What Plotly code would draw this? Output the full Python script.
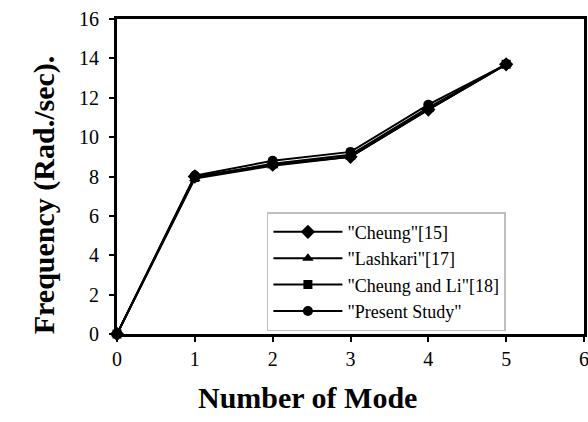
import plotly.graph_objects as go

modes = [0, 1, 2, 3, 4, 5]
cheung = [0, 8.0, 8.6, 9.0, 11.4, 13.7]
lashkari = [0, 7.9, 8.55, 9.0, 11.4, 13.7]
cheung_li = [0, 7.95, 8.65, 9.1, 11.5, 13.7]
present = [0, 8.05, 8.8, 9.25, 11.65, 13.7]
x_ticks = [0, 1, 2, 3, 4, 5, 6]
y_ticks = [0, 2, 4, 6, 8, 10, 12, 14, 16]
x_title = "Number of Mode"
y_title = "Frequency (Rad./sec)."

series = [
    ('"Cheung"[15]', cheung, "diamond", 11),
    ('"Lashkari"[17]', lashkari, "triangle-up", 10),
    ('"Cheung and Li"[18]', cheung_li, "square", 9),
    ('"Present Study"', present, "circle", 10),
]

fig = go.Figure()
for name, vals, sym, sz in series:
    fig.add_trace(go.Scatter(
        x=modes, y=vals, name=name, mode="lines+markers",
        line=dict(color="black", width=2),
        marker=dict(symbol=sym, size=sz, color="black"),
        cliponaxis=False,
    ))

ff = "Liberation Serif"
axis_common = dict(
    showgrid=False, zeroline=False,
    showline=True, mirror=True, linecolor="black", linewidth=3,
    ticks="outside", ticklen=5, tickwidth=2, tickcolor="black",
    tickfont=dict(family=ff, size=20, color="black"),
    automargin=False, ticklabeloverflow="allow",
)
fig.update_layout(
    width=588, height=422,
    margin=dict(l=117, r=4, t=19, b=88),
    paper_bgcolor="white", plot_bgcolor="white",
    font=dict(family=ff, size=18, color="black"),
    showlegend=True,
    legend=dict(
        x=0.321, y=0.387, xanchor="left", yanchor="top",
        bordercolor="#bfbfbf", borderwidth=1.5,
        font=dict(family=ff, size=18, color="black"),
        itemwidth=69, tracegroupgap=0,
        bgcolor="white",
    ),
    xaxis=dict(range=[0, 6], tickvals=x_ticks, **axis_common),
    yaxis=dict(range=[0, 16], tickvals=y_ticks, ticklabelstandoff=6,
               **axis_common),
    annotations=[
        dict(text="<b>%s</b>" % x_title, xref="paper", yref="paper",
             x=0.407, y=-0.203, xanchor="center", yanchor="middle",
             showarrow=False, font=dict(family=ff, size=30, color="black")),
        dict(text="<b>%s</b>" % y_title, xref="paper", yref="paper",
             x=-0.156, y=0.441, xanchor="center", yanchor="middle",
             textangle=-90, showarrow=False,
             font=dict(family=ff, size=30, color="black")),
    ],
)

fig.write_html("out.html",
               config={"displayModeBar": False},
               post_script="document.body.style.margin='0';"
                           "document.body.style.padding='0';")
